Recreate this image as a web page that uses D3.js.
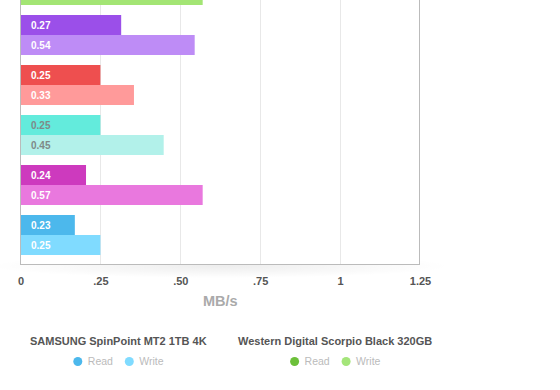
<!DOCTYPE html>
<html><head><meta charset="utf-8">
<script src="https://cdn.jsdelivr.net/npm/d3@7"></script>
<style>html,body{margin:0;padding:0;background:#fff;}svg{display:block;font-family:"Liberation Sans",Arial,Helvetica,sans-serif;}</style>
</head><body>
<svg id="c" width="560" height="390"></svg>
<script>
// ---- data ----
const drives = ["Western Digital Scorpio Black 320GB", "Drive 5", "Drive 4", "Drive 3", "Drive 2", "SAMSUNG SpinPoint MT2 1TB 4K"];
const readValues  = [0.25, 0.315, 0.25, 0.25, 0.205, 0.17];
const writeValues = [0.57, 0.545, 0.355, 0.448, 0.57, 0.25];
const readLabels  = ["0.25", "0.27", "0.25", "0.25", "0.24", "0.23"];
const writeLabels = ["0.57", "0.54", "0.33", "0.45", "0.57", "0.25"];
const readColors  = ["#6cc03a", "#9b4fe9", "#ee4f4f", "#63ebdc", "#cd3abe", "#4cb8ec"];
const writeColors = ["#a3e574", "#be8cf6", "#ff9a9a", "#b2f1ea", "#e978de", "#80dbff"];
const labelColors = ["#fff", "#fff", "#fff", "#7f8a88", "#fff", "#fff"];
const tickValues = [0, 0.25, 0.5, 0.75, 1, 1.25];
const tickLabels = ["0", ".25", ".50", ".75", "1", "1.25"];
const legendItems = [
  {name: "SAMSUNG SpinPoint MT2 1TB 4K", read: "#4cb8ec", write: "#80dbff"},
  {name: "Western Digital Scorpio Black 320GB", read: "#6cc03a", write: "#a4e57a"}
];

const svg = d3.select("#c");
const pLeft = 20.5, pRight = 420, pTop = -44, pBottom = 264;

const x = d3.scaleLinear().domain([0, 1.25]).range([pLeft, pRight]);
const y = d3.scaleBand().domain(drives).range([pTop, pBottom]).paddingInner(0.2).paddingOuter(0.18);
const sub = d3.scaleBand().domain(["read", "write"]).range([0, y.bandwidth()]);

// soft shadow under plot
const defs = svg.append("defs");
const rg = defs.append("radialGradient").attr("id", "sh");
rg.append("stop").attr("offset", "0%").attr("stop-color", "#000").attr("stop-opacity", 0.07);
rg.append("stop").attr("offset", "100%").attr("stop-color", "#000").attr("stop-opacity", 0);
svg.append("ellipse").attr("cx", (pLeft + pRight) / 2).attr("cy", pBottom + 2).attr("rx", 230).attr("ry", 12).attr("fill", "url(#sh)");
svg.append("rect").attr("x", pLeft).attr("y", pTop).attr("width", pRight - pLeft).attr("height", pBottom - pTop).attr("fill", "#fff");

// grid lines
svg.append("g").selectAll("line").data(tickValues.slice(1, -1)).join("line")
  .attr("x1", d => Math.round(x(d)) + 0.5).attr("x2", d => Math.round(x(d)) + 0.5)
  .attr("y1", pTop).attr("y2", pBottom).attr("stroke", "#e8e8e8");
svg.append("line").attr("x1", Math.round(x(1.25)) - 0.5).attr("x2", Math.round(x(1.25)) - 0.5)
  .attr("y1", pTop).attr("y2", pBottom).attr("stroke", "#bbb");

// bars
const g = svg.append("g").selectAll("g").data(drives).join("g")
  .attr("transform", d => `translate(0,${y(d)})`);
g.append("rect").attr("x", x(0) - 0.5).attr("y", sub("read")).attr("height", sub.bandwidth())
  .attr("width", (d, i) => x(readValues[i]) - x(0) + 0.5).attr("fill", (d, i) => readColors[i]);
g.append("rect").attr("x", x(0) - 0.5).attr("y", sub("write")).attr("height", sub.bandwidth())
  .attr("width", (d, i) => x(writeValues[i]) - x(0) + 0.5).attr("fill", (d, i) => writeColors[i]);
// value labels (only those that fall inside the visible area)
[["read", readLabels], ["write", writeLabels]].forEach(([key, labels]) => {
  g.filter(d => y(d) + sub(key) >= 0)
    .append("text").attr("x", x(0) + 10.5).attr("y", sub(key) + sub.bandwidth() / 2).attr("dy", "0.35em")
    .attr("fill", d => labelColors[drives.indexOf(d)]).attr("font-size", 10).attr("font-weight", "bold")
    .text(d => labels[drives.indexOf(d)]);
});

// axes
svg.append("line").attr("x1", pLeft).attr("x2", pLeft).attr("y1", pTop).attr("y2", pBottom + 0.5).attr("stroke", "#bbb");
const ax = svg.append("g").attr("transform", `translate(0,${pBottom})`)
  .call(d3.axisBottom(x).tickValues(tickValues).tickSize(0).tickPadding(0)
    .tickFormat((d, i) => tickLabels[i]));
ax.select(".domain").attr("stroke", "#bbb").attr("d", `M${pLeft - 0.5},0.5H${pRight}`);
ax.selectAll("text").attr("y", 17).attr("dy", "0.35em").attr("fill", "#555")
  .attr("font-size", 11).attr("font-weight", "bold").attr("font-family", null);

svg.append("text").attr("x", (pLeft + pRight) / 2).attr("y", 306).attr("text-anchor", "middle")
  .attr("fill", "#aaa").attr("font-size", 14.5).attr("font-weight", "bold").text("MB/s");

// legend
const lx = [30, 238];
legendItems.forEach((it, k) => {
  const lg = svg.append("g").attr("transform", `translate(${lx[k]},0)`);
  const t = lg.append("text").attr("x", 0).attr("y", 345).attr("fill", "#555")
    .attr("font-size", 11).attr("font-weight", "bold").text(it.name);
  const c = t.node().getComputedTextLength() / 2;
  [["Read", it.read, 0], ["Write", it.write, 51.5]].forEach(([lab, col, off]) => {
    lg.append("circle").attr("cx", c - 40.5 + off).attr("cy", 361.5).attr("r", 4.5).attr("fill", col);
    lg.append("text").attr("x", c - 30.5 + off).attr("y", 361.5).attr("dy", "0.35em")
      .attr("fill", "#bbb").attr("font-size", 10.5).text(lab);
  });
});
</script>
</body></html>
